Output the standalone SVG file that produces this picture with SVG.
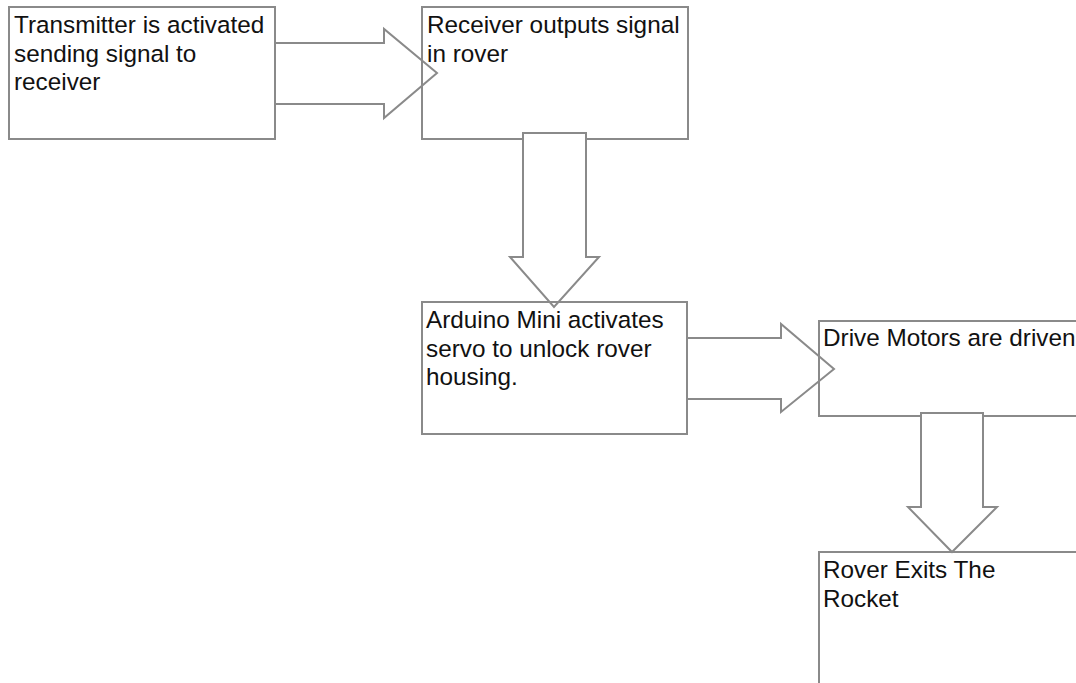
<svg xmlns="http://www.w3.org/2000/svg" width="1076" height="683" viewBox="0 0 1076 683">
<style>
.box{fill:none;stroke:#8a8a8a;stroke-width:2}
.arr{fill:#fff;stroke:#8a8a8a;stroke-width:2;stroke-linejoin:miter}
text{font-family:"Liberation Sans",Arial,sans-serif;font-size:24.3px;fill:#111}
</style>
<rect width="1076" height="683" fill="#fff"/>
<g id="n1"><rect class="box" x="9" y="7" width="266" height="132"/>
<text x="14" y="33">Transmitter is activated</text><text x="14" y="61.5">sending signal to</text><text x="14" y="90">receiver</text></g>
<g id="connectors">
<polygon id="c1" class="arr" points="275,43 384,43 384,29 437,73 384,118 384,104 275,104"/>
</g>
<g id="n2"><rect class="box" x="422" y="7" width="266" height="132"/>
<text x="427" y="33">Receiver outputs signal</text><text x="427" y="61.5">in rover</text></g>
<g id="connectors2">
<polygon id="c2" class="arr" points="523,133 586,133 586,257 599,257 554,307 510,257 523,257"/>
</g>
<g id="n3"><rect class="box" x="422" y="302" width="265" height="132"/>
<text x="426" y="328">Arduino Mini activates</text><text x="426" y="356.5">servo to unlock rover</text><text x="426" y="385">housing.</text></g>
<g id="connectors3">
<polygon id="c3" class="arr" points="687,338 781,338 781,324 834,369 781,412 781,399 687,399"/>
</g>
<g id="n4"><rect class="box" x="819" y="321" width="266" height="95"/>
<text x="823" y="346">Drive Motors are driven</text></g>
<g id="connectors4">
<polygon id="c4" class="arr" points="921,413 983,413 983,507 997,507 952,552 908,507 921,507"/>
</g>
<g id="n5"><rect class="box" x="819" y="552" width="266" height="140"/>
<text x="823" y="578">Rover Exits The</text><text x="823" y="607">Rocket</text></g>
</svg>
